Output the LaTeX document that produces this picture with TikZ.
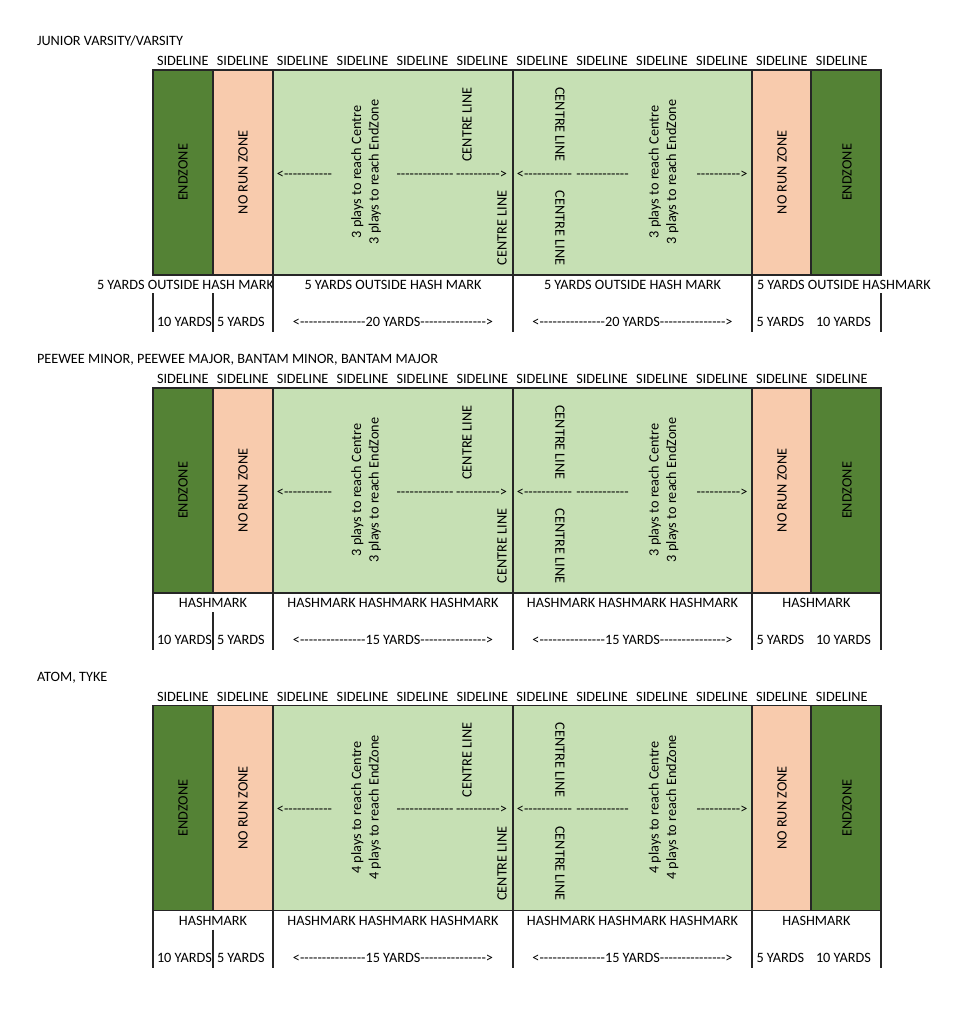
\documentclass[tikz,border=0pt]{standalone}
\usepackage{fontspec}
\setmainfont{Carlito}[Ligatures=TeXOff]
\definecolor{ezgreen}{HTML}{548235}
\definecolor{nrz}{HTML}{F8CBAD}
\definecolor{fieldg}{HTML}{C6E0B4}
\tikzset{
  lbl/.style={inner sep=0pt,outer sep=0pt,font=\fontsize{10.7}{13.2}\selectfont,text=black},
  lblb/.style={lbl,anchor=base},
  lblw/.style={lbl,anchor=base west},
  upt/.style={lbl,anchor=base,rotate=90},
  downt/.style={lbl,anchor=base,rotate=-90},
  cellline/.style={line width=1.1pt,draw=black!85},
}
\newcommand\fieldsec[4]{%
\begin{scope}[shift={(0,#1)}]
  \node[lblw] (#2-title) at (37,45.6) {#3};
  \foreach \i in {0,...,11} \node[lblw] (#2-sl\i) at ({157+59.9*\i},65.6) {SIDELINE};
  \draw[cellline,fill=ezgreen] (153,70) rectangle (213,275);
  \draw[cellline,fill=nrz] (213,70) rectangle (273,275);
  \draw[cellline,fill=fieldg] (273,70) rectangle (513,275);
  \draw[cellline,fill=fieldg] (513,70) rectangle (752,275);
  \draw[cellline,fill=nrz] (752,70) rectangle (811,275);
  \draw[cellline,fill=ezgreen] (811,70) rectangle (881,275);
  \node[upt] (#2-ezl) at (187.6,172.5) {ENDZONE};
  \node[upt] (#2-nrl) at (247.6,172.5) {NO RUN ZONE};
  \node[upt] (#2-nrr) at (786.6,172.5) {NO RUN ZONE};
  \node[upt] (#2-ezr) at (851.6,172.5) {ENDZONE};
  \node[lbl,rotate=90,align=center] (#2-pl) at (366,172) {#4 plays to reach Centre\\#4 plays to reach EndZone};
  \node[lbl,rotate=90,align=center] (#2-pr) at (663.5,172) {#4 plays to reach Centre\\#4 plays to reach EndZone};
  \node[upt] (#2-clu) at (471.6,124.5) {CENTRE LINE};
  \node[upt] (#2-cll) at (506.6,228) {CENTRE LINE};
  \node[downt] (#2-cru) at (555.4,124.5) {CENTRE LINE};
  \node[downt] (#2-crl) at (555.4,228) {CENTRE LINE};
  \node[lblb] (#2-al) at (304.5,178) {<-----------};
  \node[lblb] (#2-am) at (425,178) {-------------};
  \node[lblb] (#2-ar) at (481.5,178) {---------->};
  \node[lblb] (#2-bl) at (544.5,178) {<-----------};
  \node[lblb] (#2-bm) at (602.5,178) {------------};
  \node[lblb] (#2-br) at (722,178) {---------->};
\end{scope}}
\newcommand\hashrows[2]{%
\begin{scope}[shift={(0,#1)}]
  \node[lblb] (#2-h1) at (213,289.6) {HASHMARK};
  \node[lblb] (#2-h2) at (393,289.6) {HASHMARK HASHMARK HASHMARK};
  \node[lblb] (#2-h3) at (632.5,289.6) {HASHMARK HASHMARK HASHMARK};
  \node[lblb] (#2-h4) at (816.5,289.6) {HASHMARK};
  \node[lblw] (#2-y1) at (157,326.6) {10 YARDS};
  \node[lblw] (#2-y2) at (217,326.6) {5 YARDS};
  \node[lblb] (#2-y3) at (393,326.6) {<---------------15 YARDS--------------->};
  \node[lblb] (#2-y4) at (632.5,326.6) {<---------------15 YARDS--------------->};
  \node[lblw] (#2-y5) at (756.5,326.6) {5 YARDS};
  \node[lblw] (#2-y6) at (816,326.6) {10 YARDS};
  \draw[cellline] (153,275) -- (153,332);
  \draw[cellline] (213,294) -- (213,332);
  \draw[cellline] (273,275) -- (273,332);
  \draw[cellline] (513,275) -- (513,332);
  \draw[cellline] (752,275) -- (752,332);
  \draw[cellline] (881,275) -- (881,332);
\end{scope}}
\begin{document}
\begin{tikzpicture}[x=0.75pt,y=-0.75pt]
\useasboundingbox (0,0) rectangle (971,1024);
\fill[white] (0,0) rectangle (971,1024);
% section 1
\fieldsec{0}{s1}{JUNIOR VARSITY/VARSITY}{3}
\begin{scope}
  \clip (0,276) rectangle (272.4,300);
  \node[lblw] (s1-o1) at (97,289.6) {5 YARDS OUTSIDE HASH MARK};
\end{scope}
\node[lblb] (s1-o2) at (393,289.6) {5 YARDS OUTSIDE HASH MARK};
\node[lblb] (s1-o3) at (632.5,289.6) {5 YARDS OUTSIDE HASH MARK};
\node[lblw] (s1-o4) at (757,289.6) {5 YARDS OUTSIDE HASHMARK};
\node[lblw] (s1-y1) at (157,326.6) {10 YARDS};
\node[lblw] (s1-y2) at (217,326.6) {5 YARDS};
\node[lblb] (s1-y3) at (393,326.6) {<---------------20 YARDS--------------->};
\node[lblb] (s1-y4) at (632.5,326.6) {<---------------20 YARDS--------------->};
\node[lblw] (s1-y5) at (756.5,326.6) {5 YARDS};
\node[lblw] (s1-y6) at (816,326.6) {10 YARDS};
\draw[cellline] (153,293) -- (153,332);
\draw[cellline] (213,293) -- (213,332);
\draw[cellline] (273,275) -- (273,332);
\draw[cellline] (513,275) -- (513,332);
\draw[cellline] (752,275) -- (752,332);
\draw[cellline] (881,293) -- (881,332);
% section 2
\fieldsec{318}{s2}{PEEWEE MINOR, PEEWEE MAJOR, BANTAM MINOR, BANTAM MAJOR}{3}
\hashrows{318}{s2}
% section 3
\fieldsec{635.5}{s3}{ATOM, TYKE}{4}
\hashrows{635.5}{s3}
\end{tikzpicture}
\end{document}
